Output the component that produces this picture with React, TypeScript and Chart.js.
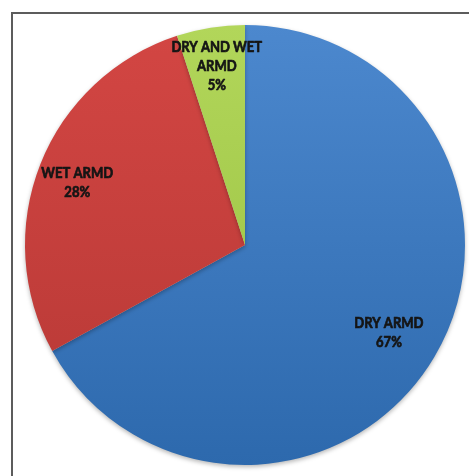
import React, { useEffect, useRef } from "react";
import { Chart, registerables } from "chart.js";

Chart.register(...registerables);

const categories = ["DRY ARMD", "WET ARMD", "DRY AND WET ARMD"];
const values = [67, 28, 5];
const labelLines = [["DRY ARMD"], ["WET ARMD"], ["DRY AND WET", "ARMD"]];
const labelRadius = [0.76, 0.82, 0.82];
const labelShiftY = [3, 4, 0];
const topColors = ["#4C88CE", "#D34643", "#B2D65A"];
const bottomColors = ["#2D69AD", "#B63835", "#97BF3F"];

const shadowPlugin = {
  id: "pieShadow",
  beforeDatasetsDraw(chart: any) {
    const ctx = chart.ctx;
    ctx.save();
    ctx.shadowColor = "rgba(0,0,0,0.28)";
    ctx.shadowBlur = 4;
    ctx.shadowOffsetY = 2;
  },
  afterDatasetsDraw(chart: any) {
    chart.ctx.restore();
  },
};

const labelPlugin = {
  id: "sliceLabels",
  afterDatasetsDraw(chart: any) {
    const ctx = chart.ctx;
    const meta = chart.getDatasetMeta(0);
    const total = values.reduce((a, b) => a + b, 0);
    const sx = 0.9;
    meta.data.forEach((arc: any, i: number) => {
      const p = arc.getProps(["x", "y", "startAngle", "endAngle", "outerRadius"], true);
      const mid = (p.startAngle + p.endAngle) / 2;
      const r = p.outerRadius * labelRadius[i];
      const cx = p.x + Math.cos(mid) * r;
      const cy = p.y + Math.sin(mid) * r + labelShiftY[i];
      const lines = [...labelLines[i], Math.round((values[i] / total) * 100) + "%"];
      const lh = 19;
      const y0 = cy - ((lines.length - 1) * lh) / 2;
      ctx.save();
      ctx.translate(cx, 0);
      ctx.scale(sx, 1);
      ctx.fillStyle = "#151515";
      ctx.strokeStyle = "#151515";
      ctx.lineWidth = 0.7;
      ctx.lineJoin = "round";
      ctx.font = "bold 14.5px Lato, 'Open Sans', sans-serif";
      ctx.textAlign = "center";
      ctx.textBaseline = "middle";
      lines.forEach((t, j) => {
        ctx.fillText(t, 0, y0 + j * lh);
        ctx.strokeText(t, 0, y0 + j * lh);
      });
      ctx.restore();
    });
  },
};

export default function App() {
  const ref = useRef<HTMLCanvasElement>(null);
  useEffect(() => {
    if (!ref.current) return;
    const grad = (colorsTop: string[], colorsBottom: string[]) => (c: any) => {
      const chart = c.chart;
      const area = chart.chartArea;
      if (!area) return colorsTop[c.dataIndex];
      const g = chart.ctx.createLinearGradient(0, area.top, 0, area.bottom);
      g.addColorStop(0, colorsTop[c.dataIndex]);
      g.addColorStop(1, colorsBottom[c.dataIndex]);
      return g;
    };
    const chart = new Chart(ref.current, {
      type: "pie",
      data: {
        labels: categories,
        datasets: [
          {
            data: values,
            backgroundColor: grad(topColors, bottomColors),
            borderWidth: 0,
          },
        ],
      },
      options: {
        animation: false,
        responsive: false,
        layout: { padding: { left: 25, right: 4, top: 25, bottom: 11 } },
        plugins: {
          legend: { display: false },
          tooltip: { enabled: false },
        },
      },
      plugins: [shadowPlugin, labelPlugin],
    });
    return () => chart.destroy();
  }, []);
  return (
    <div
      style={{
        position: "fixed",
        left: 0,
        top: 0,
        width: 469,
        height: 476,
        overflow: "hidden",
        background: "#ffffff",
      }}
    >
      <div
        style={{
          position: "absolute",
          left: 11,
          top: 12,
          width: 500,
          height: 500,
          borderLeft: "2px solid #5c5c5c",
          borderTop: "2px solid #5c5c5c",
        }}
      />
      <canvas
        ref={ref}
        width={469}
        height={476}
        style={{ position: "absolute", left: 0, top: 0, width: 469, height: 476 }}
      />
    </div>
  );
}
